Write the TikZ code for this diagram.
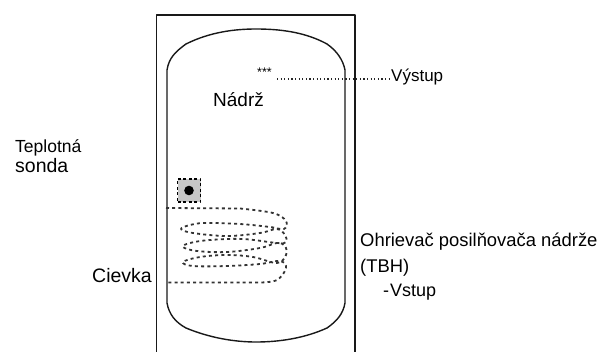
\documentclass[tikz,border=0pt]{standalone}
\usepackage{fontspec}
\setmainfont{Liberation Sans}
\usetikzlibrary{positioning}
\tikzset{lbl/.style = {inner sep = 0, anchor = base west}}
\tikzset{outline/.style = {line width = 1.4pt, black!90}}
\tikzset{coil/.style = {dash pattern = on 3pt off 3.2pt, line width = 1.8pt, black!80}}
\definecolor{mgray}{rgb}{0.78, 0.78, 0.78}

\begin{document}
\begin{tikzpicture}[x=1pt, y=-1pt, line join=round]
      \useasboundingbox (0, 0) rectangle (610, 352);

      \draw [outline] (156.5, 352) -- (156.5, 15) -- (355, 15) -- (355, 352);

      % tank
      \draw [outline] (167, 303) -- (167, 70) .. controls (169, 58) and (175, 52) .. (186, 44)
        .. controls (210, 32) and (235, 29) .. (256, 29) .. controls (280, 29) and (305, 32) .. (327, 44)
        .. controls (337, 51) and (343, 60) .. (345, 70) -- (345, 303)
        .. controls (343, 314) and (337, 321) .. (327, 328)
        .. controls (305, 338) and (280, 342) .. (256, 342) .. controls (235, 342) and (210, 338) .. (186, 328)
        .. controls (175, 322) and (169, 314) .. (167, 303);

      % sensor
      \node (sensor) [draw, dash pattern = on 3pt off 2.5pt, line width = 1.4pt, fill = mgray, minimum size = 23, inner sep = 0] at (189, 190.5) {};
      \fill (sensor.center) circle (4.8);

      % coil
      \draw [coil] (166, 208) -- (240, 208.5) plot [smooth, tension = 0.6] coordinates {
        (240, 208.5) (273, 213) (286, 221) (284, 229) (270, 227) (240, 224) (205, 223) (190, 225) (181, 229)
        (193, 233) (227, 236) (260, 233) (277, 229) (285, 235) (286, 242) (277, 243) (243, 239) (210, 240)
        (190, 243) (183, 247) (197, 251) (227, 252) (260, 248) (277, 243) (285, 246) (286, 255) (277, 263)
        (253, 257) (227, 255) (200, 257) (183, 262) (193, 266) (227, 266) (260, 264) (280, 261) (286, 268)
        (277, 280) (260, 282.5)} -- (168, 282.5);

      \node (stars) [lbl, font = \fontsize{12.5}{12.5}\selectfont] at (257, 77) {***};
      \coordinate (dotstart) at (277, 79);
      \node (outlet) [lbl, font = \fontsize{17}{17}\selectfont] at (391, 82) {Výstup};
      \draw [line width = 1.3pt, black!85, dash pattern = on 1.2pt off 2.4pt] (dotstart) -- (outlet.west |- dotstart);

      \node (tank) [lbl, font = \fontsize{19}{19}\selectfont] at (213, 107) {Nádrž};
      \node (probeA) [lbl, font = \fontsize{17.5}{17.5}\selectfont] at (15, 153) {Teplotná};
      \node (probeB) [lbl, font = \fontsize{19.5}{19.5}\selectfont] at (15, 173) {sonda};
      \node (coillabel) [lbl, font = \fontsize{19.5}{19.5}\selectfont] at (92, 283) {Cievka};
      \node (heater) [lbl, font = \fontsize{18.4}{18.4}\selectfont] at (360, 247) {Ohrievač posilňovača nádrže};
      \node (tbh) [lbl, font = \fontsize{18.4}{18.4}\selectfont] at (360, 273) {(TBH)};
      \node (inlet) [lbl, font = \fontsize{18}{18}\selectfont] at (383, 297) {-\kern1pt Vstup};
\end{tikzpicture}
\end{document}
